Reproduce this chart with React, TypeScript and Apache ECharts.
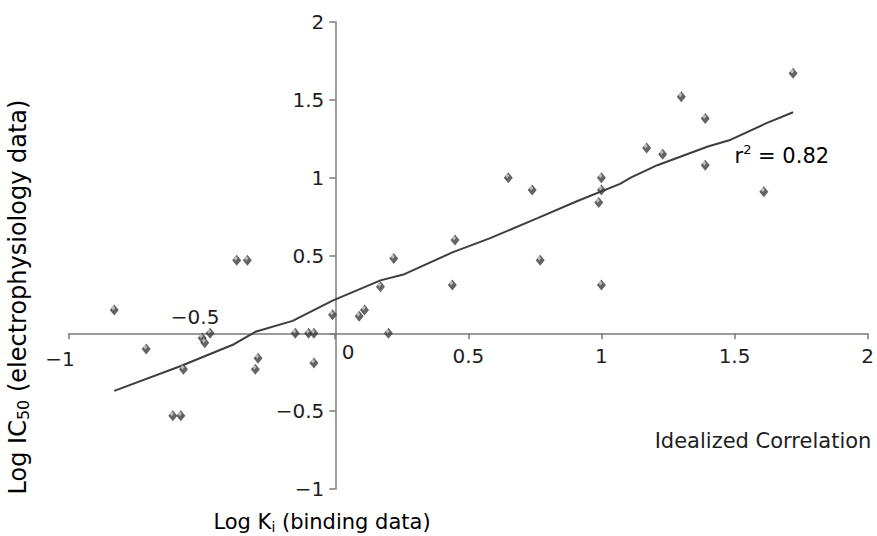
import React, { useEffect, useRef } from 'react';
import * as echarts from 'echarts';

// Observed data: Log Ki (binding) vs Log IC50 (electrophysiology)
const logKi = [
  -0.83, -0.71, -0.57, -0.5, -0.49, -0.47, -0.61, -0.58, -0.37, -0.33,
  -0.29, -0.3, -0.15, -0.1, -0.08, -0.08, -0.01, 0.09, 0.11, 0.17,
  0.22, 0.2, 0.45, 0.44, 0.65, 0.74, 0.77, 0.99, 1.0, 1.0,
  1.0, 1.17, 1.23, 1.3, 1.39, 1.39, 1.61, 1.72,
];
const logIC50 = [
  0.15, -0.1, -0.23, -0.03, -0.06, 0.0, -0.53, -0.53, 0.47, 0.47,
  -0.16, -0.23, 0.0, 0.0, 0.0, -0.19, 0.12, 0.11, 0.15, 0.3,
  0.48, 0.0, 0.6, 0.31, 1.0, 0.92, 0.47, 0.84, 1.0, 0.92,
  0.31, 1.19, 1.15, 1.52, 1.38, 1.08, 0.91, 1.67,
];

// Idealized correlation line
const fitX = [
  -0.83, -0.58, -0.38, -0.3, -0.16, -0.01, 0.17, 0.26, 0.44, 0.58,
  0.76, 0.91, 1.07, 1.11, 1.21, 1.4, 1.48, 1.62, 1.72,
];
const fitY = [
  -0.37, -0.21, -0.07, 0.01, 0.08, 0.21, 0.34, 0.38, 0.52, 0.61,
  0.74, 0.85, 0.96, 1.0, 1.08, 1.2, 1.24, 1.35, 1.42,
];

const rSquared = '0.82';
const xAxisTitle = ['Log K', 'i', ' (binding data)'];
const yAxisTitle = ['Log IC', '50', ' (electrophysiology data)'];
const fitLabel = 'Idealized Correlation';

const FONT = 'DejaVu Sans';
const AXIS_COLOR = '#7a7a7a';
const TEXT_COLOR = '#1e1e1e';

const W = 877;
const H = 536;
const GRID = { left: 69, right: 9, top: 22, bottom: 47 };
const X_MIN = -1;
const X_MAX = 2;
const Y_MIN = -1;
const Y_MAX = 2;

const fmt = (v: number) => String(v).replace('-', '\u2212');

export default function App() {
  const ref = useRef<HTMLDivElement>(null);

  useEffect(() => {
    document.body.style.margin = '0';
    const chart = echarts.init(ref.current!, null, { renderer: 'svg' });
    const points = logKi.map((x, i) => [x, logIC50[i]]);
    const fit = fitX.map((x, i) => [x, fitY[i]]);

    // move axes so they cross at the origin (labels move along)
    const gw = W - GRID.left - GRID.right;
    const gh = H - GRID.top - GRID.bottom;
    const yAxisOffset = -((0 - X_MIN) / (X_MAX - X_MIN)) * gw;
    const xAxisOffset = -((0 - Y_MIN) / (Y_MAX - Y_MIN)) * gh;

    chart.setOption({
      animation: false,
      grid: GRID,
      xAxis: {
        type: 'value',
        position: 'bottom',
        offset: xAxisOffset,
        min: X_MIN,
        max: X_MAX,
        interval: 0.5,
        splitLine: { show: false },
        axisLine: { onZero: false, lineStyle: { color: AXIS_COLOR, width: 1.5 } },
        axisTick: { show: true, length: 6, lineStyle: { color: AXIS_COLOR, width: 1.5 } },
        axisLabel: {
          showMinLabel: true,
          showMaxLabel: true,
          margin: 13,
          fontFamily: FONT,
          fontSize: 20,
          color: TEXT_COLOR,
          formatter: (v: number) => (v <= 0 ? '' : fmt(v)),
        },
      },
      yAxis: {
        type: 'value',
        position: 'left',
        offset: yAxisOffset,
        min: Y_MIN,
        max: Y_MAX,
        interval: 0.5,
        splitLine: { show: false },
        axisLine: { onZero: false, lineStyle: { color: AXIS_COLOR, width: 1.5 } },
        axisTick: { show: true, length: 6, lineStyle: { color: AXIS_COLOR, width: 1.5 } },
        axisLabel: {
          showMinLabel: true,
          showMaxLabel: true,
          margin: 11,
          fontFamily: FONT,
          fontSize: 20,
          color: TEXT_COLOR,
          formatter: (v: number) => (v === 0 ? '' : fmt(v)),
        },
      },
      series: [
        {
          type: 'line',
          data: fit,
          showSymbol: false,
          smooth: false,
          lineStyle: { color: '#3d3d3d', width: 2 },
          z: 2,
        },
        {
          type: 'scatter',
          data: points,
          symbol: 'diamond',
          symbolSize: [9, 11],
          itemStyle: { color: '#3c3c3c' },
          z: 3,
        },
        {
          type: 'scatter',
          data: points,
          symbol: 'diamond',
          symbolSize: [4, 5],
          symbolOffset: [-1, -2],
          itemStyle: { color: 'rgba(220,220,220,0.9)' },
          z: 4,
        },
      ],
    });

    const px = (x: number, y: number) => chart.convertToPixel({ gridIndex: 0 }, [x, y]) as number[];
    const pM1 = px(-1, 0);
    const p0 = px(0, 0);
    const pM05 = px(-0.5, 0);
    const pR = px(1.5, 1.14);
    const pI = px(1.2, -0.69);

    const tickText = (p: number[], dx: number, dy: number, text: string) => ({
      type: 'text',
      x: p[0] + dx,
      y: p[1] + dy,
      style: {
        text,
        fill: TEXT_COLOR,
        fontFamily: FONT,
        fontSize: 20,
        align: 'center',
        verticalAlign: 'middle',
      },
    });

    chart.setOption({
      graphic: [
        tickText(pM1, -9, 26, fmt(-1)),
        tickText(p0, 13, 19, '0'),
        tickText(pM05, -7, -16, fmt(-0.5)),
        {
          type: 'text',
          x: pR[0],
          y: pR[1],
          style: {
            text: `{a|r}{s|2}{a| = ${rSquared}}`,
            align: 'left',
            verticalAlign: 'middle',
            rich: {
              a: { fontFamily: FONT, fontSize: 21, color: TEXT_COLOR },
              s: { fontFamily: FONT, fontSize: 13, color: TEXT_COLOR, padding: [0, 0, 12, 0] },
            },
          },
        },
        {
          type: 'text',
          x: pI[0],
          y: pI[1],
          style: {
            text: fitLabel,
            fill: TEXT_COLOR,
            fontFamily: FONT,
            fontSize: 21,
            align: 'left',
            verticalAlign: 'middle',
          },
        },
        {
          type: 'text',
          x: 322,
          y: 522,
          style: {
            text: `{a|${xAxisTitle[0]}}{s|${xAxisTitle[1]}}{a|${xAxisTitle[2]}}`,
            align: 'center',
            verticalAlign: 'middle',
            rich: {
              a: { fontFamily: FONT, fontSize: 21, color: TEXT_COLOR },
              s: { fontFamily: FONT, fontSize: 14, color: TEXT_COLOR, padding: [10, 0, 0, 0] },
            },
          },
        },
        {
          type: 'text',
          x: 18,
          y: 297,
          rotation: Math.PI / 2,
          style: {
            text: `{a|${yAxisTitle[0]}}{s|${yAxisTitle[1]}}{a|${yAxisTitle[2]}}`,
            align: 'center',
            verticalAlign: 'middle',
            rich: {
              a: { fontFamily: FONT, fontSize: 24, color: TEXT_COLOR },
              s: { fontFamily: FONT, fontSize: 16, color: TEXT_COLOR, padding: [11, 0, 0, 0] },
            },
          },
        },
      ],
    });

    return () => chart.dispose();
  }, []);

  return <div ref={ref} style={{ width: W, height: H }} />;
}
